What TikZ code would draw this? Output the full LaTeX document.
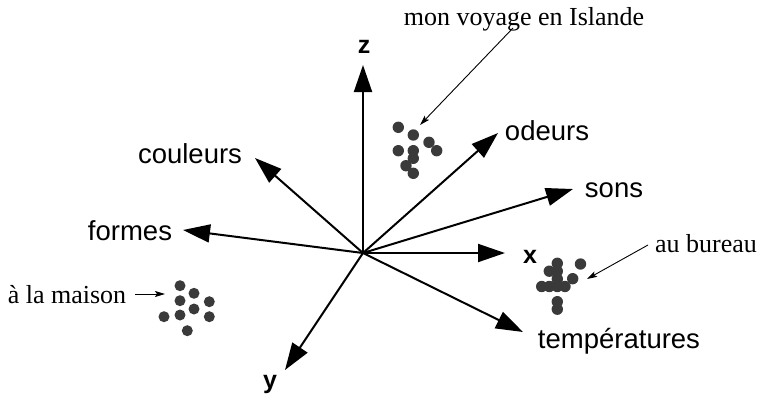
\documentclass[tikz,border=0pt]{standalone}
\usepackage{fontspec}
\setmainfont{Liberation Serif}
\setsansfont{Liberation Sans}
\usetikzlibrary{arrows.meta}
\definecolor{dotgray}{HTML}{3A3A3A}
\begin{document}
\begin{tikzpicture}[x=1pt,y=-1pt,
  axis/.style={line width=2pt,-{Triangle[length=27pt,width=18pt]}},
  lead/.style={line width=0.9pt,-{Stealth[length=10pt,width=6pt,inset=2pt]}},
  axlabel/.style={font=\sffamily\fontsize{27.5}{32}\selectfont,anchor=base,inner sep=0pt},
  letter/.style={font=\sffamily\bfseries\fontsize{25}{29}\selectfont,anchor=base,inner sep=0pt},
  note/.style={font=\rmfamily\fontsize{26}{30}\selectfont,anchor=base,inner sep=0pt},
  dot/.style={fill=dotgray}]
\useasboundingbox (0,0) rectangle (761,400);
\coordinate (O) at (363,253);
\coordinate (tz) at (363,65);
\coordinate (todeurs) at (498,133);
\coordinate (tsons) at (573,189);
\coordinate (tx) at (505,253);
\coordinate (ttemp) at (523,332);
\coordinate (ty) at (285,370);
\coordinate (tformes) at (183,230);
\coordinate (tcouleurs) at (255,158);
\foreach \t in {tz,todeurs,tsons,tx,ttemp,ty,tformes,tcouleurs}
  \draw[axis] (O) -- (\t);
\node[letter] (lz) at (364,53) {z};
\node[letter] (lx) at (530,263) {x};
\node[letter] (ly) at (270,388) {y};
\node[axlabel] (lodeurs) at (547,140) {odeurs};
\node[axlabel] (lsons) at (614,197) {sons};
\node[axlabel] (lcouleurs) at (190,163) {couleurs};
\node[axlabel] (lformes) at (130,240) {formes};
\node[axlabel] (ltemp) at (619,348) {températures};
\node[note] (islande) at (524,25) {mon voyage en Islande};
\node[note] (maison) at (67,303) {à la maison};
\node[note] (bureau) at (706,252) {au bureau};
\coordinate (islS) at (513,28);
\coordinate (islE) at (420,125);
\coordinate (burS) at (648,245);
\coordinate (burE) at (587,279);
\coordinate (maiS) at (135,294);
\coordinate (maiE) at (165,294);
\draw[lead] (islS) -- (islE);
\draw[lead] (burS) -- (burE);
\draw[lead] (maiS) -- (maiE);
\foreach \p in {(398.3,127.3),(413.3,135),(429,142.3),(436.7,150.7),(398.3,150.7),(413.3,150.7),(413.3,158.3),(406,165.7),(413.3,173.3)}
  \fill[dot] \p circle (5.7);
\foreach \p in {(557.3,263.3),(580.5,264),(549.3,271.2),(557.3,271.2),(557.3,279),(572.7,278.7),(541.7,286.5),(549.3,286.5),(557.3,286.5),(565,286.5),(557.3,301.7),(557.3,309.2)}
  \fill[dot] \p circle (5.7);
\foreach \p in {(180,285.7),(194,293.3),(180,300.7),(209.3,301.7),(194,309),(180,315),(164,316.7),(209.3,316.7),(187.3,330.7)}
  \fill[dot] \p circle (5.5);
\end{tikzpicture}
\end{document}
